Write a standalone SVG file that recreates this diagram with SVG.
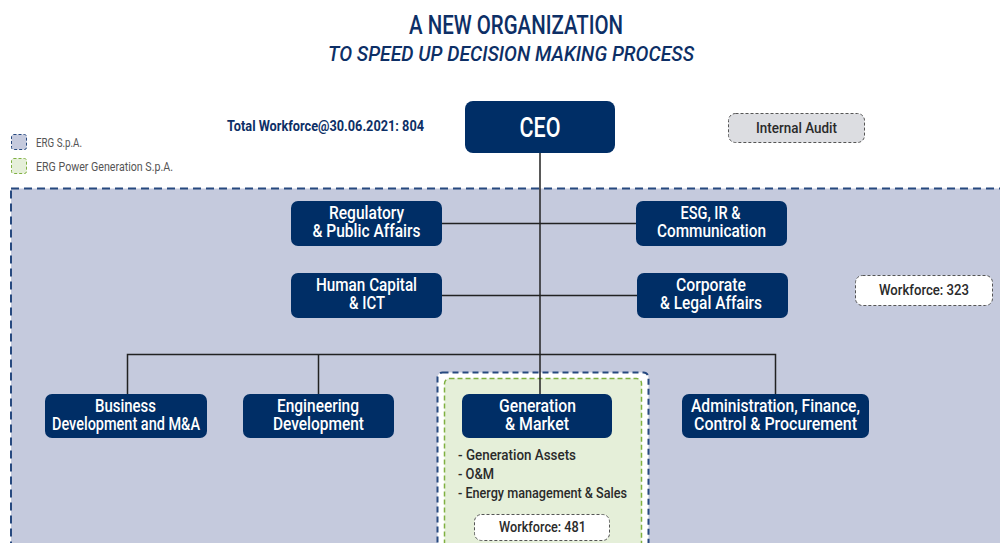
<svg xmlns="http://www.w3.org/2000/svg" width="1000" height="543" viewBox="0 0 1000 543">
  <style>
    text { font-family: "Roboto", "DejaVu Sans", sans-serif; font-weight: 500; }
    .title { fill: #0d2f66; font-size: 26px; text-anchor: middle; }
    .subtitle { fill: #0d2f66; font-size: 21px; font-style: italic; text-anchor: middle; }
    .box { fill: #002e66; }
    .box-label { fill: #ffffff; font-size: 17.5px; text-anchor: middle; }
    .ceo-label { fill: #ffffff; font-size: 27px; text-anchor: middle; }
    .link { stroke: #222222; stroke-width: 1.5; fill: none; }
    .tag { fill: #ffffff; stroke: #555555; stroke-width: 1; stroke-dasharray: 3 2; }
    .tag-label { fill: #2a2a2a; font-size: 15px; text-anchor: middle; }
    .legend-label { fill: #555555; font-size: 12.5px; font-weight: 400; }
    .item { fill: #2a2a2a; font-size: 15px; }
  </style>

  <!-- Heading -->
  <text class="title" x="516" y="34" textLength="214" lengthAdjust="spacingAndGlyphs">A NEW ORGANIZATION</text>
  <text class="subtitle" x="511" y="61" textLength="366" lengthAdjust="spacingAndGlyphs">TO SPEED UP DECISION MAKING PROCESS</text>

  <!-- Legend -->
  <g id="legend">
    <rect x="11.5" y="134.5" width="15" height="15" rx="2" fill="#c5cadd" stroke="#27497f" stroke-dasharray="3 2"/>
    <text class="legend-label" x="36" y="147" textLength="46" lengthAdjust="spacingAndGlyphs">ERG S.p.A.</text>
    <rect x="11.5" y="158.5" width="15" height="15" rx="2" fill="#e5efd9" stroke="#7fb041" stroke-dasharray="3 2"/>
    <text class="legend-label" x="36" y="171" textLength="137" lengthAdjust="spacingAndGlyphs">ERG Power Generation S.p.A.</text>
  </g>

  <text x="325.5" y="131" fill="#0d2f66" font-size="15" text-anchor="middle" style="font-weight:700" textLength="197" lengthAdjust="spacingAndGlyphs">Total Workforce@30.06.2021: 804</text>

  <!-- ERG S.p.A. area -->
  <g id="erg-spa-area">
    <rect x="11" y="188.5" width="1000" height="370" fill="#c5cadd" stroke="#27497f" stroke-width="2" stroke-dasharray="8 5"/>
  </g>

  <!-- ERG Power Generation area -->
  <g id="erg-power-area">
    <rect x="437.5" y="372.5" width="211" height="190" rx="5" fill="#ffffff" stroke="#27497f" stroke-width="2" stroke-dasharray="6 4"/>
    <rect x="444.5" y="378.5" width="197" height="180" rx="5" fill="#e5efd9" stroke="#7fb041" stroke-width="1.5" stroke-dasharray="5 3"/>
  </g>

  <!-- Connectors -->
  <g id="connectors">
    <line class="link" x1="540" y1="153" x2="540" y2="394"/>
    <line class="link" x1="442" y1="223.5" x2="636" y2="223.5"/>
    <line class="link" x1="442" y1="295.5" x2="637" y2="295.5"/>
    <polyline class="link" points="127.5,394 127.5,354.5 775.5,354.5 775.5,394"/>
    <line class="link" x1="318.5" y1="354.5" x2="318.5" y2="394"/>
  </g>

  <!-- Nodes -->
  <g id="node-ceo">
    <rect class="box" x="465" y="101" width="150" height="52" rx="8"/>
    <text class="ceo-label" x="540" y="137" textLength="41" lengthAdjust="spacingAndGlyphs">CEO</text>
  </g>

  <g id="node-internal-audit">
    <rect x="728.5" y="113.5" width="136" height="29" rx="7" fill="#dcdde1" stroke="#555555" stroke-dasharray="3 2"/>
    <text class="tag-label" x="796.5" y="133" textLength="81" lengthAdjust="spacingAndGlyphs">Internal Audit</text>
  </g>

  <g id="node-regulatory">
    <rect class="box" x="291" y="201" width="151" height="45" rx="7"/>
    <text class="box-label" x="366.5" y="219" textLength="75" lengthAdjust="spacingAndGlyphs">Regulatory</text>
    <text class="box-label" x="366.5" y="237" textLength="108" lengthAdjust="spacingAndGlyphs">&amp; Public Affairs</text>
  </g>

  <g id="node-esg">
    <rect class="box" x="636" y="201" width="151" height="45" rx="7"/>
    <text class="box-label" x="710.5" y="219" textLength="60" lengthAdjust="spacingAndGlyphs">ESG, IR &amp;</text>
    <text class="box-label" x="711.5" y="237" textLength="109" lengthAdjust="spacingAndGlyphs">Communication</text>
  </g>

  <g id="node-human-capital">
    <rect class="box" x="291" y="273" width="151" height="45" rx="7"/>
    <text class="box-label" x="366.5" y="291" textLength="101" lengthAdjust="spacingAndGlyphs">Human Capital</text>
    <text class="box-label" x="367" y="309" textLength="36" lengthAdjust="spacingAndGlyphs">&amp; ICT</text>
  </g>

  <g id="node-corporate">
    <rect class="box" x="637" y="273" width="151" height="45" rx="7"/>
    <text class="box-label" x="711" y="291" textLength="70" lengthAdjust="spacingAndGlyphs">Corporate</text>
    <text class="box-label" x="711" y="309" textLength="102" lengthAdjust="spacingAndGlyphs">&amp; Legal Affairs</text>
  </g>

  <g id="node-workforce-323">
    <rect class="tag" x="855.5" y="275.5" width="137" height="30" rx="7"/>
    <text class="tag-label" x="924" y="295" textLength="90" lengthAdjust="spacingAndGlyphs">Workforce: 323</text>
  </g>

  <g id="node-business-dev">
    <rect class="box" x="45" y="394" width="162" height="44" rx="7"/>
    <text class="box-label" x="125.5" y="412" textLength="61" lengthAdjust="spacingAndGlyphs">Business</text>
    <text class="box-label" x="126" y="430" textLength="148" lengthAdjust="spacingAndGlyphs">Development and M&amp;A</text>
  </g>

  <g id="node-engineering">
    <rect class="box" x="243" y="394" width="151" height="44" rx="7"/>
    <text class="box-label" x="318" y="412" textLength="82" lengthAdjust="spacingAndGlyphs">Engineering</text>
    <text class="box-label" x="318.5" y="430" textLength="91" lengthAdjust="spacingAndGlyphs">Development</text>
  </g>

  <g id="node-generation">
    <rect class="box" x="462" y="394" width="150" height="44" rx="7"/>
    <text class="box-label" x="537.5" y="412" textLength="77" lengthAdjust="spacingAndGlyphs">Generation</text>
    <text class="box-label" x="537" y="430" textLength="64" lengthAdjust="spacingAndGlyphs">&amp; Market</text>
  </g>

  <g id="node-generation-items">
    <text class="item" x="458" y="460" textLength="118" lengthAdjust="spacingAndGlyphs">- Generation Assets</text>
    <text class="item" x="458" y="479" textLength="36" lengthAdjust="spacingAndGlyphs">- O&amp;M</text>
    <text class="item" x="458" y="498" textLength="169" lengthAdjust="spacingAndGlyphs">- Energy management &amp; Sales</text>
  </g>

  <g id="node-workforce-481">
    <rect class="tag" x="474.5" y="514.5" width="135" height="26" rx="7"/>
    <text class="tag-label" x="542.5" y="532" textLength="87" lengthAdjust="spacingAndGlyphs">Workforce: 481</text>
  </g>

  <g id="node-admin">
    <rect class="box" x="682" y="394" width="187" height="44" rx="7"/>
    <text class="box-label" x="775.5" y="412" textLength="169" lengthAdjust="spacingAndGlyphs">Administration, Finance,</text>
    <text class="box-label" x="775.5" y="430" textLength="163" lengthAdjust="spacingAndGlyphs">Control &amp; Procurement</text>
  </g>
</svg>
